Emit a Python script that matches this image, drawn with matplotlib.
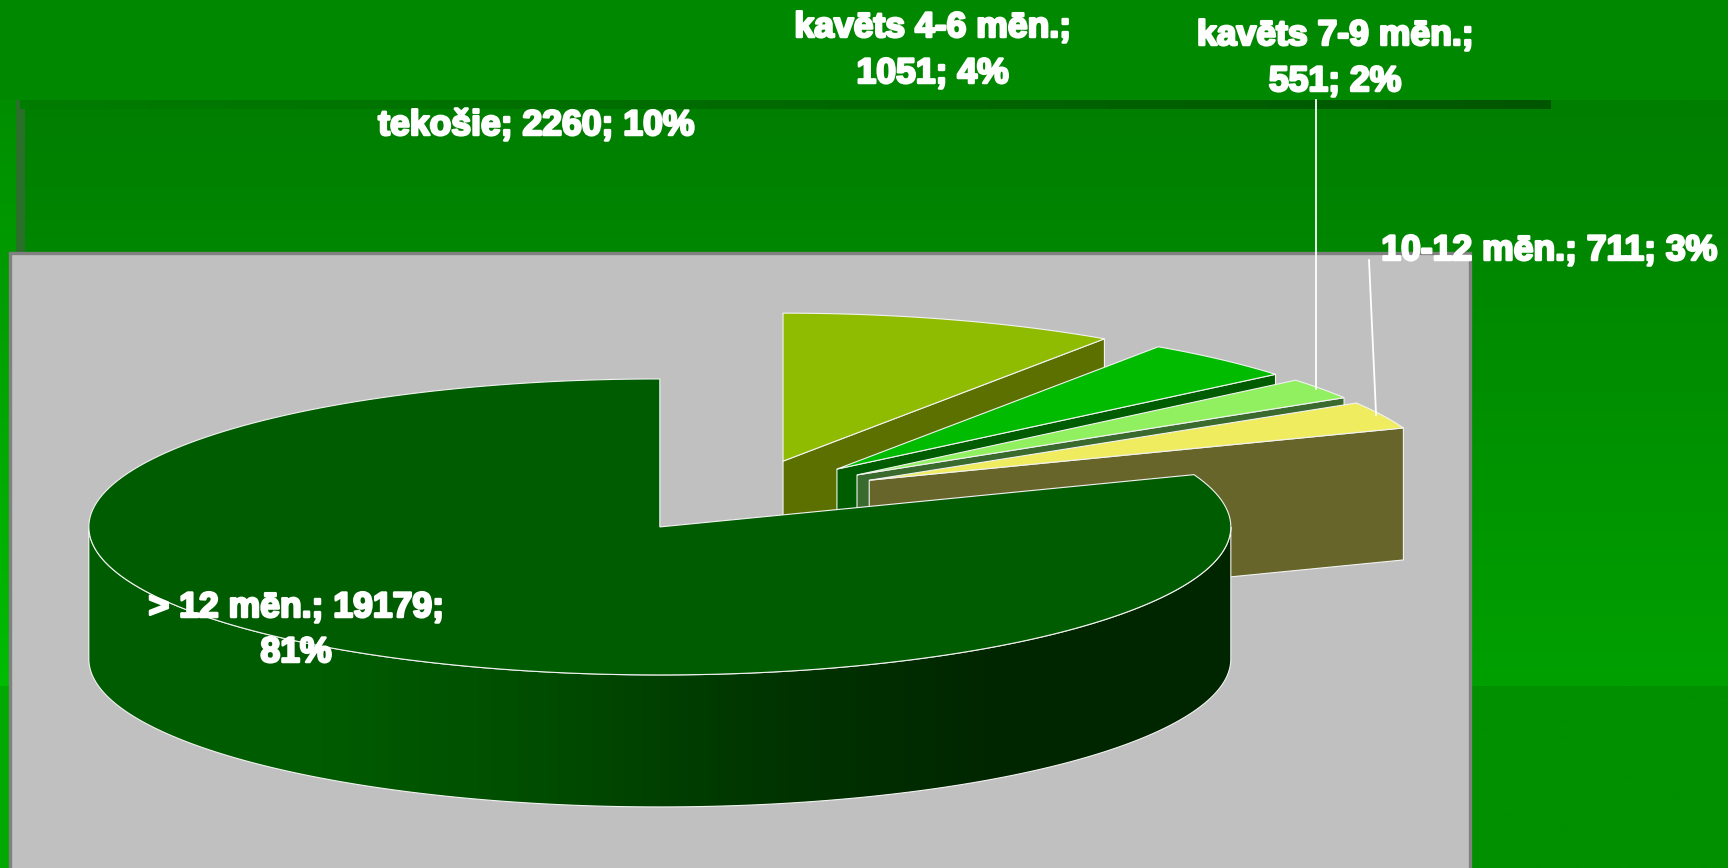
import numpy as np
import matplotlib
matplotlib.use("Agg")
import matplotlib.pyplot as plt
import matplotlib.patheffects as pe
from matplotlib.colors import LinearSegmentedColormap
from matplotlib.patches import Polygon, Rectangle

# data
categories = ["tekošie", "kavēts 4-6 mēn.", "kavēts 7-9 mēn.", "10-12 mēn.", "> 12 mēn."]
values = [2260, 1051, 551, 711, 19179]
percents = ["10%", "4%", "2%", "3%", "81%"]

top_colors = ["#8fbc00", "#00bb00", "#90f060", "#f0ec60", "#005c00"]
wall_colors = ["#5c7000", "#005c00", "#3a6a2e", "#68652a", "#005c00"]

# pie geometry in pixels of the picture
CX, CY = 741, 496.5
RX, RY = 571, 148
DEPTH = 132
EXPLODE = 0.25

fig = plt.figure(figsize=(17.28, 8.68), dpi=100)
ax = fig.add_axes([0, 0, 1, 1])
ax.set_xlim(0, 1728)
ax.set_ylim(868, 0)
ax.axis("off")


def grad(x0, x1, y0, y1, colors, horizontal=False, zorder=1, clip=None):
    cmap = LinearSegmentedColormap.from_list("g", colors)
    g = np.linspace(0, 1, 256)
    g = g.reshape(1, -1) if horizontal else g.reshape(-1, 1)
    im = ax.imshow(g, cmap=cmap, extent=(x0, x1, y1, y0), aspect="auto", zorder=zorder, interpolation="bilinear")
    if clip is not None:
        im.set_clip_path(clip)
    return im


#---------- slide background
grad(0, 1728, 0, 868, ["#008800", "#008800"])
grad(0, 16, 100, 686, ["#008e00", "#00bc00"])
grad(0, 16, 686, 868, ["#00a800", "#00a800"])
grad(16, 1728, 100, 686, ["#007e00", "#00a000"])
grad(16, 1728, 686, 868, ["#009000", "#009000"])
grad(16, 25, 100, 252, ["#2a702a", "#2a702a"], zorder=2)
grad(20, 1551, 100, 109, ["#007c00", "#005600"], horizontal=True, zorder=2)

# plot area
ax.add_patch(Rectangle((9.5, 253), 1460.5, 640, facecolor="#c0c0c0", edgecolor="#808080", lw=2.4, zorder=3))

#---------- pie
total = sum(values)
edges = np.concatenate([[0], np.cumsum(values)]) / total * 2 * np.pi
line = dict(edgecolor="#f2f2f2", lw=0.8, joinstyle="miter")


def arc(t0, t1, ox, oy, n=200):
    t = np.linspace(t0, t1, n)
    return np.column_stack([ox + RX * np.sin(t), oy - RY * np.cos(t)])


for i in range(len(values)):
    t0, t1 = edges[i], edges[i + 1]
    mid = (t0 + t1) / 2
    ox = CX + EXPLODE * RX * np.sin(mid)
    oy = CY - EXPLODE * RY * np.cos(mid)
    z = 10 + i
    top = np.vstack([[ox, oy], arc(t0, t1, ox, oy)])

    if i < 4:
        # cut face that looks to the front right
        end = arc(t1, t1, ox, oy, 1)[0]
        wall = [[ox, oy], end, end + [0, DEPTH], [ox, oy + DEPTH]]
        ax.add_patch(Polygon(wall, closed=True, facecolor=wall_colors[i], zorder=z, **line))
    else:
        # outer rim of the big slice, shaded left to right
        rim = arc(np.pi / 2, 3 * np.pi / 2, ox, oy)
        rim = np.vstack([rim, rim[::-1] + [0, DEPTH]])
        p = Polygon(rim, closed=True, facecolor="none", zorder=z, **line)
        ax.add_patch(p)
        clip = Polygon(rim, closed=True, transform=ax.transData)
        grad(ox - RX, ox + RX, oy, oy + RY + DEPTH,
             ["#005c00", "#005c00", "#004c00", "#003400", "#002600", "#002600"],
             horizontal=True, zorder=z - 0.5, clip=clip)

    ax.add_patch(Polygon(top, closed=True, facecolor=top_colors[i], zorder=z + 0.2, **line))

ax.set_xlim(0, 1728)
ax.set_ylim(868, 0)


def arc_mid(i):
    mid = (edges[i] + edges[i + 1]) / 2
    ox = CX + EXPLODE * RX * np.sin(mid)
    oy = CY - EXPLODE * RY * np.cos(mid)
    return ox + RX * np.sin(mid), oy - RY * np.cos(mid)


#---------- leader lines
x2, y2 = arc_mid(2)
ax.plot([x2 - 5, x2 - 5], [100, y2], color="white", lw=1.3, zorder=20)
x3, y3 = arc_mid(3)
ax.plot([1369, x3 - 6], [260, y3], color="white", lw=1.3, zorder=20)


#---------- labels
def label(x, y, s):
    ax.text(x, y, s, color="white", fontsize=25.6, fontweight="bold", family="Liberation Sans",
            ha="center", va="baseline", zorder=30,
            path_effects=[pe.withStroke(linewidth=1.8, foreground="white")])


label(536, 135, f"{categories[0]}; {values[0]}; {percents[0]}")
label(932.5, 37, f"{categories[1]};")
label(932.5, 83, f"{values[1]}; {percents[1]}")
label(1335, 45, f"{categories[2]};")
label(1335, 91, f"{values[2]}; {percents[2]}")
label(1549, 260, f"{categories[3]}; {values[3]}; {percents[3]}")
label(296, 617, f"{categories[4]}; {values[4]};")
label(296, 662, percents[4])

fig.savefig("out.png", dpi=100)
